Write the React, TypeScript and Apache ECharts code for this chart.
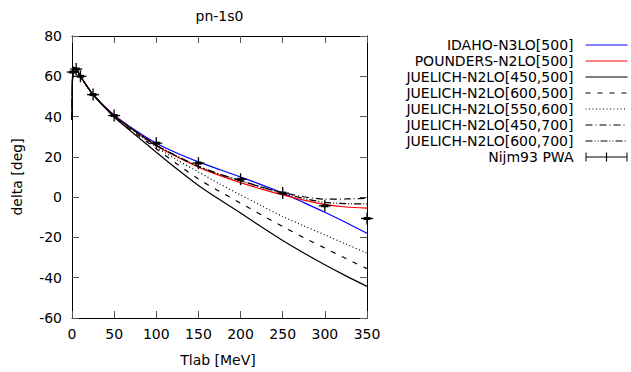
import React, { useEffect, useRef } from "react";
import * as echarts from "echarts";

const tlabCurve = [0.1, 0.5, 1, 2, 5, 10, 25, 50, 75, 100, 125, 150, 175, 200, 225, 250, 275, 300, 325, 350];
const lowEnergy = [38.4, 57.0, 62.0, 64.2, 63.6, 60.0, 50.9];

const idaho = [...lowEnergy, 40.8, 33.2, 26.8, 21.8, 17.5, 13.7, 10.0, 6.1, 2.0, -2.7, -7.5, -12.6, -17.9];
const pounders = [...lowEnergy, 40.5, 32.6, 25.5, 19.9, 14.9, 10.8, 7.2, 4.0, 1.1, -1.5, -3.6, -4.9, -5.5];
const juelich450_500 = [...lowEnergy, 39.8, 31.0, 22.3, 13.8, 5.8, -1.2, -7.9, -14.8, -21.5, -27.7, -33.6, -39.1, -44.3];
const juelich600_500 = [...lowEnergy, 40.0, 31.8, 24.0, 16.3, 9.0, 2.9, -3.0, -8.9, -14.6, -20.1, -25.3, -30.5, -35.5];
const juelich550_600 = [...lowEnergy, 40.2, 32.4, 24.8, 18.4, 12.5, 6.6, 1.1, -4.3, -9.6, -14.3, -18.7, -23.3, -27.8];
const juelich450_700 = [...lowEnergy, 40.4, 32.8, 25.8, 20.2, 15.3, 11.4, 8.2, 5.0, 2.3, 0.2, -1.0, -0.9, -0.6];
const juelich600_700 = [...lowEnergy, 40.4, 32.8, 25.8, 20.2, 15.3, 11.4, 8.2, 4.9, 2.0, -0.6, -2.6, -3.2, -3.4];

const nijmTlab = [1, 5, 10, 25, 50, 100, 150, 200, 250, 300, 350];
const nijmDelta = [62.1, 63.6, 60.0, 50.9, 40.5, 26.8, 16.9, 8.9, 2.0, -4.3, -10.6];

const xTicks = [0, 50, 100, 150, 200, 250, 300, 350];
const yTicks = [-60, -40, -20, 0, 20, 40, 60, 80];

const FONT = "DejaVu Sans";

const pair = (ys: number[]) => ys.map((y, i) => [tlabCurve[i], y]);

export default function App() {
  const ref = useRef<HTMLDivElement>(null);
  useEffect(() => {
    if (!ref.current) return;
    const chart = echarts.init(ref.current, null, { renderer: "svg" });
    const lineSeries = (name: string, data: number[], color: string, type: any) => ({
      name,
      type: "line",
      data: pair(data),
      symbol: "none",
      smooth: 0.25,
      lineStyle: { color, width: 1.2, type },
      itemStyle: { color },
      xAxisIndex: 0,
      yAxisIndex: 0,
      z: 3,
    });
    const axisCommon = {
      axisLine: { show: true, onZero: false, lineStyle: { color: "#000", width: 1 } },
      axisTick: { show: true, inside: true, length: 7, lineStyle: { color: "#555", width: 1 } },
      splitLine: { show: false },
    };
    chart.setOption({
      animation: false,
      backgroundColor: "#fff",
      textStyle: { fontFamily: FONT },
      grid: { left: 72, right: 264, top: 36, bottom: 54 },
      xAxis: [
        {
          type: "value",
          min: xTicks[0],
          max: xTicks[xTicks.length - 1],
          interval: 50,
          ...axisCommon,
          axisLabel: { color: "#000", fontSize: 14, fontFamily: FONT, margin: 9 },
        },
        {
          type: "value",
          position: "top",
          min: xTicks[0],
          max: xTicks[xTicks.length - 1],
          interval: 50,
          ...axisCommon,
          axisLabel: { show: false },
        },
      ],
      yAxis: [
        {
          type: "value",
          min: yTicks[0],
          max: yTicks[yTicks.length - 1],
          interval: 20,
          ...axisCommon,
          axisLabel: { color: "#000", fontSize: 14, fontFamily: FONT, margin: 10 },
        },
        {
          type: "value",
          position: "right",
          min: yTicks[0],
          max: yTicks[yTicks.length - 1],
          interval: 20,
          ...axisCommon,
          axisLabel: { show: false },
        },
      ],
      legend: {
        orient: "vertical",
        right: 3,
        top: 38,
        padding: 0,
        align: "right",
        itemWidth: 42,
        itemHeight: 10,
        itemGap: 2,
        itemStyle: { opacity: 0 },
        lineStyle: { width: 1 },
        textStyle: { fontSize: 14, fontFamily: FONT, color: "#000", padding: [0, 7, 0, 0] },
        data: [
          "IDAHO-N3LO[500]",
          "POUNDERS-N2LO[500]",
          "JUELICH-N2LO[450,500]",
          "JUELICH-N2LO[600,500]",
          "JUELICH-N2LO[550,600]",
          "JUELICH-N2LO[450,700]",
          "JUELICH-N2LO[600,700]",
          {
            name: "Nijm93 PWA",
            icon: "path://M0,0.5h1v9h-1zM0,4.5h42v1h-42zM41,0.5h1v9h-1zM20.4,0.5h1.2v9h-1.2z",
            itemStyle: { color: "#000", opacity: 1 },
          },
        ],
      },
      graphic: [
        {
          type: "text",
          x: 219.5,
          y: 16,
          style: { text: "pn-1s0", font: `14px "${FONT}"`, fill: "#000", align: "center", verticalAlign: "middle" },
        },
        {
          type: "text",
          x: 218,
          y: 360,
          style: { text: "Tlab [MeV]", font: `14px "${FONT}"`, fill: "#000", align: "center", verticalAlign: "middle" },
        },
        {
          type: "text",
          x: 17,
          y: 177,
          rotation: Math.PI / 2,
          style: { text: "delta [deg]", font: `14px "${FONT}"`, fill: "#000", align: "center", verticalAlign: "middle" },
        },
      ],
      series: [
        lineSeries("IDAHO-N3LO[500]", idaho, "#0000ff", "solid"),
        lineSeries("POUNDERS-N2LO[500]", pounders, "#ff0000", "solid"),
        lineSeries("JUELICH-N2LO[450,500]", juelich450_500, "#000000", "solid"),
        lineSeries("JUELICH-N2LO[600,500]", juelich600_500, "#000000", [5, 7]),
        lineSeries("JUELICH-N2LO[550,600]", juelich550_600, "#000000", [1, 2.5]),
        lineSeries("JUELICH-N2LO[450,700]", juelich450_700, "#000000", [7, 3, 1, 3]),
        lineSeries("JUELICH-N2LO[600,700]", juelich600_700, "#000000", [7, 2, 1, 2, 1, 2]),
        {
          name: "Nijm93 PWA",
          type: "custom",
          xAxisIndex: 0,
          yAxisIndex: 0,
          itemStyle: { color: "#000" },
          z: 5,
          data: nijmTlab.map((t, i) => [t, nijmDelta[i]]),
          renderItem: (params: any, api: any) => {
            const p = api.coord([api.value(0), api.value(1)]);
            return {
              type: "group",
              children: [
                { type: "line", shape: { x1: p[0] - 6, y1: p[1], x2: p[0] + 6, y2: p[1] }, style: { stroke: "#000", lineWidth: 1.3 } },
                { type: "line", shape: { x1: p[0] - 3.5, y1: p[1], x2: p[0] + 3.5, y2: p[1] }, style: { stroke: "#000", lineWidth: 3 } },
                { type: "line", shape: { x1: p[0], y1: p[1] - 6, x2: p[0], y2: p[1] + 6 }, style: { stroke: "#000", lineWidth: 1.3 } },
              ],
            };
          },
        },
      ],
    });
    return () => chart.dispose();
  }, []);
  return <div ref={ref} style={{ width: 631, height: 372, position: "absolute", left: 0, top: 0 }} />;
}
